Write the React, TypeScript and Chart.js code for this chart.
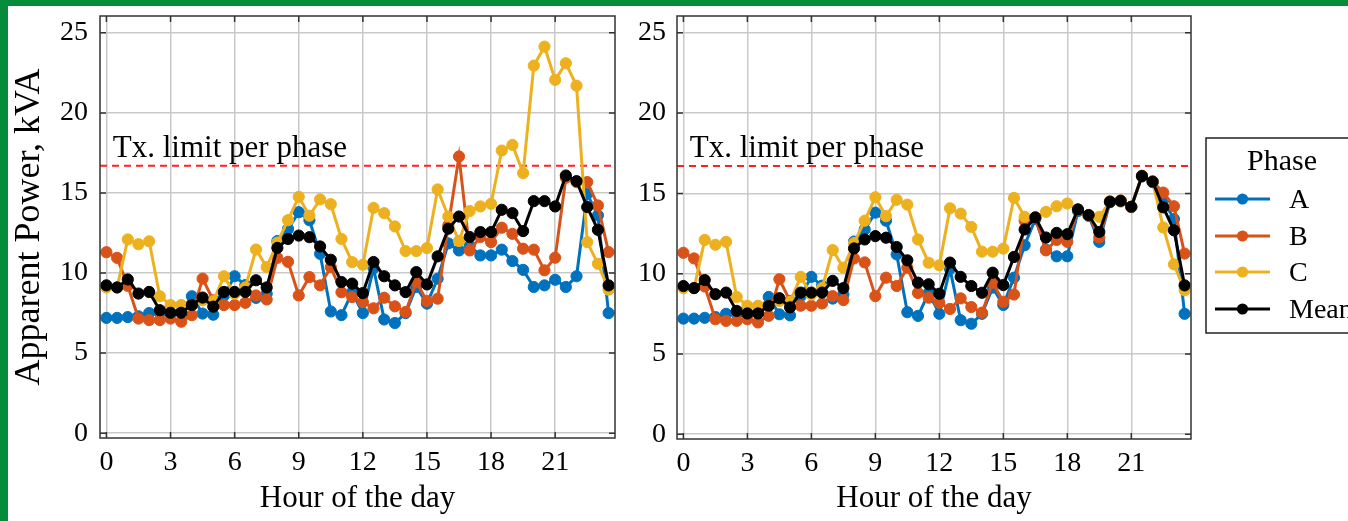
import React, { useEffect, useRef } from "react";
import { Chart, registerables } from "chart.js";

Chart.register(...registerables);

// ---------- data ----------
const HOURS = [
  0, 0.5, 1, 1.5, 2, 2.5, 3, 3.5, 4, 4.5, 5, 5.5, 6, 6.5, 7, 7.5,
  8, 8.5, 9, 9.5, 10, 10.5, 11, 11.5, 12, 12.5, 13, 13.5, 14, 14.5, 15, 15.5,
  16, 16.5, 17, 17.5, 18, 18.5, 19, 19.5, 20, 20.5, 21, 21.5, 22, 22.5, 23, 23.5,
];

// Left panel (uncontrolled)
const A_ORIGINAL = [
  7.2, 7.2, 7.25, 7.3, 7.5, 7.5, 7.5, 7.6,
  8.55, 7.47, 7.4, 8.6, 9.8, 9.25, 8.45, 8.7,
  12.0, 12.75, 13.8, 13.3, 11.2, 7.6, 7.37, 8.8,
  7.5, 10.3, 7.1, 6.88, 7.5, 9.13, 8.09, 9.65,
  11.85, 11.41, 11.7, 11.1, 11.1, 11.46, 10.75, 10.2,
  9.13, 9.23, 9.58, 9.13, 9.8, 14.95, 13.6, 7.5,
];
const B_ORIGINAL = [
  11.3, 10.95, 9.2, 7.16, 7.06, 7.06, 7.16, 6.96,
  7.37, 9.65, 8.3, 8.0, 8.0, 8.14, 8.6, 8.35,
  10.95, 10.7, 8.6, 9.75, 9.23, 10.37, 8.8, 8.5,
  8.19, 7.8, 8.46, 7.92, 7.57, 9.44, 8.25, 8.4,
  12.97, 17.28, 11.41, 12.25, 11.93, 12.83, 12.45, 11.52,
  11.46, 10.17, 10.96, 15.95, 15.68, 15.68, 14.22, 11.31,
];
const C_ORIGINAL = [
  9.1, 9.1, 12.1, 11.8, 11.98, 8.55, 8.0, 8.0,
  8.0, 8.3, 8.24, 9.8, 8.7, 9.1, 11.47, 10.37,
  11.9, 13.3, 14.76, 13.58, 14.6, 14.3, 12.13, 10.68,
  10.52, 14.07, 13.74, 12.91, 11.37, 11.37, 11.56, 15.22,
  13.53, 12.0, 13.87, 14.16, 14.32, 17.65, 18.0, 16.24,
  22.95, 24.14, 22.06, 23.1, 21.7, 11.93, 10.58, 8.96,
];
const MEAN_ORIGINAL = [
  9.23, 9.1, 9.6, 8.72, 8.82, 7.68, 7.52, 7.52,
  8.0, 8.47, 7.9, 8.82, 8.82, 8.82, 9.55, 9.1,
  11.57, 12.13, 12.34, 12.24, 11.66, 10.83, 9.44, 9.34,
  8.75, 10.69, 9.8, 9.23, 8.81, 10.06, 9.29, 11.04,
  12.77, 13.53, 12.25, 12.56, 12.56, 13.95, 13.74, 12.62,
  14.49, 14.49, 14.16, 16.09, 15.74, 14.12, 12.7, 9.23,
];

// Right panel (managed)
const A_MANAGED = [
  7.2, 7.2, 7.25, 7.3, 7.5, 7.5, 7.5, 7.6,
  8.55, 7.47, 7.4, 8.6, 9.8, 9.25, 8.45, 8.7,
  12.0, 12.75, 13.8, 13.3, 11.2, 7.6, 7.37, 8.8,
  7.5, 10.3, 7.1, 6.88, 7.5, 9.13, 8.05, 9.75,
  11.77, 13.4, 11.5, 11.08, 11.08, 13.9, 13.6, 11.98,
  14.45, 14.5, 14.15, 16.05, 15.7, 14.58, 13.4, 7.5,
];
const B_MANAGED = [
  11.3, 10.95, 9.2, 7.16, 7.06, 7.06, 7.16, 6.96,
  7.37, 9.65, 8.3, 8.0, 8.0, 8.14, 8.6, 8.35,
  10.95, 10.7, 8.6, 9.75, 9.23, 10.37, 8.8, 8.5,
  8.19, 7.8, 8.46, 7.92, 7.57, 9.44, 8.25, 8.7,
  13.3, 13.5, 11.45, 12.1, 11.98, 14.0, 13.65, 12.25,
  14.5, 14.55, 14.15, 16.1, 15.75, 15.05, 14.2, 11.25,
];
const C_MANAGED = [
  9.1, 9.1, 12.1, 11.8, 11.98, 8.55, 8.0, 8.0,
  8.0, 8.3, 8.24, 9.8, 8.7, 9.1, 11.47, 10.37,
  11.9, 13.3, 14.76, 13.58, 14.6, 14.3, 12.13, 10.68,
  10.52, 14.07, 13.74, 12.91, 11.37, 11.37, 11.56, 14.72,
  13.54, 13.5, 13.85, 14.2, 14.37, 14.0, 13.65, 13.54,
  14.5, 14.55, 14.17, 16.08, 15.73, 12.88, 10.58, 8.96,
];
const MEAN_MANAGED = [
  9.23, 9.1, 9.6, 8.72, 8.82, 7.68, 7.52, 7.52,
  8.0, 8.47, 7.9, 8.82, 8.82, 8.82, 9.55, 9.1,
  11.57, 12.13, 12.34, 12.24, 11.66, 10.83, 9.44, 9.34,
  8.75, 10.69, 9.8, 9.23, 8.81, 10.06, 9.29, 11.04,
  12.75, 13.5, 12.25, 12.54, 12.46, 14.0, 13.65, 12.6,
  14.48, 14.54, 14.17, 16.08, 15.73, 14.13, 12.7, 9.27,
];

const SERIES_NAMES = ["A", "B", "C", "Mean"];
const SERIES_COLORS = ["#0072BD", "#D95319", "#EDB120", "#000000"];
const X_TICKS = [0, 3, 6, 9, 12, 15, 18, 21];
const Y_TICKS = [0, 5, 10, 15, 20, 25];
const LIMIT_KVA = 16.7;
const LIMIT_LABEL = "Tx. limit per phase";
const LIMIT_LABEL_HOUR = 0.3;
const X_TITLE = "Hour of the day";
const Y_TITLE = "Apparent Power, kVA";
const LEGEND_TITLE = "Phase";

// ---------- styling ----------
const FONT = "'Liberation Serif', 'Times New Roman', serif";
const X_MIN = -0.3;
const X_MAX = 23.8;
const Y_MIN = -0.3;
const Y_MAX = 26.05;
const GRID_COLOR = "#c9c9c9";
const FRAME_COLOR = "#333333";
const CANVAS_TOP = 6;
const CANVAS_H = 515;
const POINT_R = 5.6;

const framePlugin = {
  id: "frameTicks",
  afterDatasetsDraw(chart: any) {
    const { ctx, chartArea: a, scales } = chart;
    ctx.save();
    ctx.strokeStyle = FRAME_COLOR;
    ctx.lineWidth = 1.5;
    ctx.strokeRect(a.left, a.top, a.right - a.left, a.bottom - a.top);
    const L = 6;
    ctx.beginPath();
    X_TICKS.forEach((v) => {
      const x = scales.x.getPixelForValue(v);
      ctx.moveTo(x, a.bottom);
      ctx.lineTo(x, a.bottom - L);
      ctx.moveTo(x, a.top);
      ctx.lineTo(x, a.top + L);
    });
    Y_TICKS.forEach((v) => {
      const y = scales.y.getPixelForValue(v);
      ctx.moveTo(a.left, y);
      ctx.lineTo(a.left + L, y);
      ctx.moveTo(a.right, y);
      ctx.lineTo(a.right - L, y);
    });
    ctx.stroke();
    ctx.restore();
  },
};

const limitLabelPlugin = {
  id: "limitLabel",
  afterDatasetsDraw(chart: any) {
    const { ctx, scales } = chart;
    ctx.save();
    ctx.font = `31px ${FONT}`;
    ctx.fillStyle = "#000";
    ctx.textAlign = "left";
    ctx.textBaseline = "alphabetic";
    ctx.fillText(
      LIMIT_LABEL,
      scales.x.getPixelForValue(LIMIT_LABEL_HOUR),
      scales.y.getPixelForValue(LIMIT_KVA) - 9
    );
    ctx.restore();
  },
};

const legendPlugin = {
  id: "phaseLegend",
  afterDraw(chart: any) {
    const { ctx } = chart;
    const bx = 579;
    const by = 132;
    const bw = 200;
    const bh = 195;
    ctx.save();
    ctx.fillStyle = "#fff";
    ctx.fillRect(bx, by, bw, bh);
    ctx.strokeStyle = "#222";
    ctx.lineWidth = 1.5;
    ctx.strokeRect(bx, by, bw, bh);
    ctx.fillStyle = "#000";
    ctx.font = `30px ${FONT}`;
    ctx.textAlign = "center";
    ctx.textBaseline = "middle";
    ctx.fillText(LEGEND_TITLE, 655, 156);
    const rows = [193, 230, 266, 303];
    SERIES_NAMES.forEach((name, i) => {
      const y = rows[i];
      ctx.strokeStyle = SERIES_COLORS[i];
      ctx.lineWidth = 3;
      ctx.beginPath();
      ctx.moveTo(588, y);
      ctx.lineTo(643, y);
      ctx.stroke();
      ctx.fillStyle = SERIES_COLORS[i];
      ctx.beginPath();
      ctx.arc(615.5, y, POINT_R, 0, Math.PI * 2);
      ctx.fill();
      ctx.fillStyle = "#000";
      ctx.font = `28px ${FONT}`;
      ctx.textAlign = "left";
      ctx.fillText(name, 662, y + 2);
    });
    ctx.restore();
  },
};

type PanelProps = {
  series: number[][];
  left: number;
  width: number;
  yAxisWidth: number;
  xAxisHeight: number;
  rightPad: number;
  yTickPad: number;
  showYTitle: boolean;
  showLegend: boolean;
};

function Panel(props: PanelProps) {
  const ref = useRef<HTMLCanvasElement>(null);
  useEffect(() => {
    const { series, yAxisWidth, xAxisHeight, rightPad, yTickPad, showYTitle, showLegend } = props;
    const datasets: any[] = series.map((vals, i) => ({
      label: SERIES_NAMES[i],
      data: HOURS.map((h, j) => ({ x: h, y: vals[j] })),
      borderColor: SERIES_COLORS[i],
      backgroundColor: SERIES_COLORS[i],
      pointBackgroundColor: SERIES_COLORS[i],
      pointBorderColor: SERIES_COLORS[i],
      borderWidth: 3,
      pointRadius: POINT_R,
      pointBorderWidth: 1,
      tension: 0,
      order: 3 - i,
    }));
    datasets.push({
      label: "limit",
      data: [
        { x: X_MIN, y: LIMIT_KVA },
        { x: X_MAX, y: LIMIT_KVA },
      ],
      borderColor: "#ff2020",
      borderWidth: 2,
      borderDash: [7, 5],
      pointRadius: 0,
      order: 10,
    });

    const chart = new Chart(ref.current as HTMLCanvasElement, {
      type: "line",
      data: { datasets },
      options: {
        animation: false,
        responsive: false,
        devicePixelRatio: 1,
        events: [],
        layout: { padding: { top: 10, right: rightPad, bottom: 0, left: 0 } },
        plugins: {
          legend: { display: false },
          tooltip: { enabled: false },
        },
        scales: {
          x: {
            type: "linear",
            min: X_MIN,
            max: X_MAX,
            afterBuildTicks: (s: any) => {
              s.ticks = X_TICKS.map((v) => ({ value: v }));
            },
            afterFit: (s: any) => {
              s.height = xAxisHeight;
              s.paddingLeft = 0;
              s.paddingRight = 0;
              s.paddingTop = 0;
              s.paddingBottom = 0;
            },
            grid: { color: GRID_COLOR, lineWidth: 1.5, drawTicks: false },
            border: { display: false },
            ticks: {
              font: { family: FONT, size: 28 },
              color: "#000",
              padding: 8,
              maxRotation: 0,
              autoSkip: false,
              callback: (v: any) => String(v),
            },
            title: {
              display: true,
              text: X_TITLE,
              font: { family: FONT, size: 31 },
              color: "#000",
              padding: { top: 0, bottom: 4 },
            },
          },
          y: {
            type: "linear",
            min: Y_MIN,
            max: Y_MAX,
            afterBuildTicks: (s: any) => {
              s.ticks = Y_TICKS.map((v) => ({ value: v }));
            },
            afterFit: (s: any) => {
              s.width = yAxisWidth;
              s.paddingLeft = 0;
              s.paddingRight = 0;
              s.paddingTop = 0;
              s.paddingBottom = 0;
            },
            grid: { color: GRID_COLOR, lineWidth: 1.5, drawTicks: false },
            border: { display: false },
            ticks: {
              font: { family: FONT, size: 28 },
              color: "#000",
              padding: yTickPad,
              autoSkip: false,
              callback: (v: any) => String(v),
            },
            title: {
              display: showYTitle,
              text: Y_TITLE,
              font: { family: FONT, size: 36 },
              color: "#000",
              padding: { top: 0, bottom: 0 },
            },
          },
        },
      } as any,
      plugins: showLegend
        ? [framePlugin, limitLabelPlugin, legendPlugin]
        : [framePlugin, limitLabelPlugin],
    });
    return () => chart.destroy();
  }, []);
  return (
    <canvas
      ref={ref}
      width={props.width}
      height={CANVAS_H}
      style={{
        position: "absolute",
        left: props.left,
        top: CANVAS_TOP,
        width: props.width,
        height: CANVAS_H,
      }}
    />
  );
}

export default function App() {
  return (
    <div
      style={{
        position: "fixed",
        left: 0,
        top: 0,
        width: 1348,
        height: 521,
        background: "#fff",
        overflow: "hidden",
      }}
    >
      <div style={{ position: "absolute", left: 0, top: 0, width: 1348, height: 6, background: "#048c3b" }} />
      <div style={{ position: "absolute", left: 0, top: 0, width: 8, height: 521, background: "#048c3b" }} />
      <Panel
        series={[A_ORIGINAL, B_ORIGINAL, C_ORIGINAL, MEAN_ORIGINAL]}
        left={8}
        width={617}
        yAxisWidth={92}
        xAxisHeight={83}
        rightPad={10}
        yTickPad={12}
        showYTitle={true}
        showLegend={false}
      />
      <Panel
        series={[A_MANAGED, B_MANAGED, C_MANAGED, MEAN_MANAGED]}
        left={627}
        width={721}
        yAxisWidth={50}
        xAxisHeight={82}
        rightPad={157}
        yTickPad={11}
        showYTitle={false}
        showLegend={true}
      />
    </div>
  );
}
